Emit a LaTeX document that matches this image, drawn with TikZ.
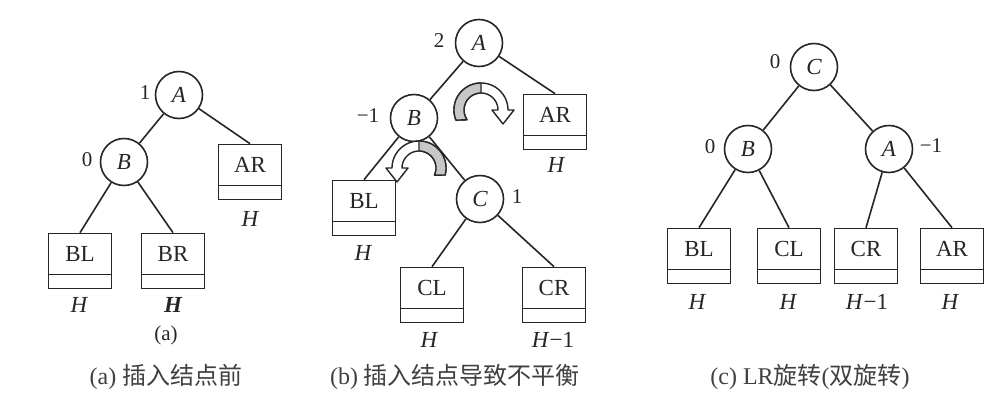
\documentclass[tikz,border=0pt]{standalone}
\usepackage{fontspec}
\setmainfont{Liberation Serif}
\newfontfamily\cjk{Noto Sans CJK SC}
\newcommand\lblfont{\fontsize{23}{27}\selectfont}
\newcommand\numfont{\fontsize{21}{25}\selectfont}
\newcommand\capfont{\fontsize{24}{28}\selectfont}
\tikzset{
  circ/.style={circle, draw=black!85, line width=1.6pt, minimum size=47pt, inner sep=0pt, font=\lblfont\itshape, text=black!85},
  subtree/.style={rectangle, draw=black!85, line width=1.6pt, minimum width=63pt, minimum height=55pt,
     inner sep=0pt, text height=16pt, text depth=15pt, font=\lblfont, text=black!85,
     path picture={\draw[black!85, line width=1.6pt]
        ([yshift=14pt]path picture bounding box.south west) --
        ([yshift=14pt]path picture bounding box.south east);}},
  lbl/.style={inner sep=0pt, font=\lblfont, text=black!85},
  num/.style={inner sep=0pt, font=\numfont, text=black!85},
  captext/.style={inner sep=0pt, font=\capfont, text=black!75},
  edge/.style={draw=black!85, line width=1.6pt},
  rib/.style={draw=black!85, line width=1.4pt, line join=round},
}
\begin{document}
\begin{tikzpicture}[x=1pt, y=-1pt]
\useasboundingbox[fill=white] (0,0) rectangle (1000,410);

% ---------- (a) ----------
\node[circ] (aA) at (179,95) {A};
\node[circ] (aB) at (124,162) {B};
\node[subtree] (aAR) at (250,172) {AR};
\node[subtree] (aBL) at (80,261) {BL};
\node[subtree] (aBR) at (173,261) {BR};
\node[num] (aA1) at (145,93) {1};
\node[num] (aB0) at (87,160) {0};
\node[lbl] (aARh) at (250,219) {\itshape H};
\node[lbl] (aBLh) at (79,305) {\itshape H};
\node[lbl] (aBRh) at (173,305) {\bfseries\itshape H};
\node[num] (acap) at (166,335) {(a)};
\draw[edge] (aA) -- (aB);
\draw[edge] (aA) -- (aAR.north);
\draw[edge] (aB) -- (aBL.north);
\draw[edge] (aB) -- (aBR.north);

% ---------- (b) ----------
\node[circ] (bA) at (479,43) {A};
\node[circ] (bB) at (414,118) {B};
\node[circ] (bC) at (480,199) {C};
\node[subtree] (bAR) at (555,122) {AR};
\node[subtree] (bBL) at (364,208) {BL};
\node[subtree] (bCL) at (432,295) {CL};
\node[subtree] (bCR) at (554,295) {CR};
\node[num] (bA2) at (439,41) {2};
\node[num] (bB1) at (368,116) {−1};
\node[num] (bC1) at (517,197) {1};
\node[lbl] (bARh) at (556,165) {\itshape H};
\node[lbl] (bBLh) at (363,253) {\itshape H};
\node[lbl] (bCLh) at (429,340) {\itshape H};
\node[lbl] (bCRh) at (553,340) {\textit{H}−1};
\draw[edge] (bA) -- (bB);
\draw[edge] (bA) -- (bAR.north);
\draw[edge] (bB) -- (bBL.north);
\draw[edge] (bB) -- (bC);
\draw[edge] (bC) -- (bCL.north);
\draw[edge] (bC) -- (bCR.north);

% rotation arrow near A (clockwise, to the right)
\filldraw[rib, fill=white]
  plot[domain=158:360, samples=40] ({481+27*cos(\x)},{110+27*sin(\x)})
  -- (514,110) -- (503,124) -- (492,110)
  -- plot[domain=360:145, samples=40] ({481+17*cos(\x)},{110+17*sin(\x)}) -- cycle;
\filldraw[rib, fill=black!22]
  plot[domain=158:270, samples=30] ({481+27*cos(\x)},{110+27*sin(\x)})
  -- plot[domain=270:145, samples=30] ({481+17*cos(\x)},{110+17*sin(\x)}) -- cycle;

% rotation arrow near B (counter-clockwise, to the left)
\filldraw[rib, fill=white]
  plot[domain=15:-180, samples=40] ({419+27*cos(\x)},{168+27*sin(\x)})
  -- (386,168) -- (397,182) -- (408,168)
  -- plot[domain=-180:25, samples=40] ({419+17*cos(\x)},{168+17*sin(\x)}) -- cycle;
\filldraw[rib, fill=black!22]
  plot[domain=15:-90, samples=30] ({419+27*cos(\x)},{168+27*sin(\x)})
  -- plot[domain=-90:25, samples=30] ({419+17*cos(\x)},{168+17*sin(\x)}) -- cycle;

% ---------- (c) ----------
\node[circ] (cC) at (814,67) {C};
\node[circ] (cB) at (748,149) {B};
\node[circ] (cA) at (889,149) {A};
\node[subtree] (cBL) at (699,256) {BL};
\node[subtree] (cCL) at (789,256) {CL};
\node[subtree] (cCR) at (866,256) {CR};
\node[subtree] (cAR) at (952,256) {AR};
\node[num] (cC0) at (775,62) {0};
\node[num] (cB0) at (710,147) {0};
\node[num] (cA1) at (931,146) {−1};
\node[lbl] (cBLh) at (697,302) {\itshape H};
\node[lbl] (cCLh) at (788,302) {\itshape H};
\node[lbl] (cCRh) at (867,302) {\textit{H}−1};
\node[lbl] (cARh) at (950,302) {\itshape H};
\draw[edge] (cC) -- (cB);
\draw[edge] (cC) -- (cA);
\draw[edge] (cB) -- (cBL.north);
\draw[edge] (cB) -- (cCL.north);
\draw[edge] (cA) -- (cCR.north);
\draw[edge] (cA) -- (cAR.north);

% ---------- captions ----------
\node[captext] (capa) at (166,377) {(a) {\cjk 插入结点前}};
\node[captext] (capb) at (455,377) {(b) {\cjk 插入结点导致不平衡}};
\node[captext] (capc) at (810,377) {(c) LR{\cjk 旋转}({\cjk 双旋转})};
\end{tikzpicture}
\end{document}
